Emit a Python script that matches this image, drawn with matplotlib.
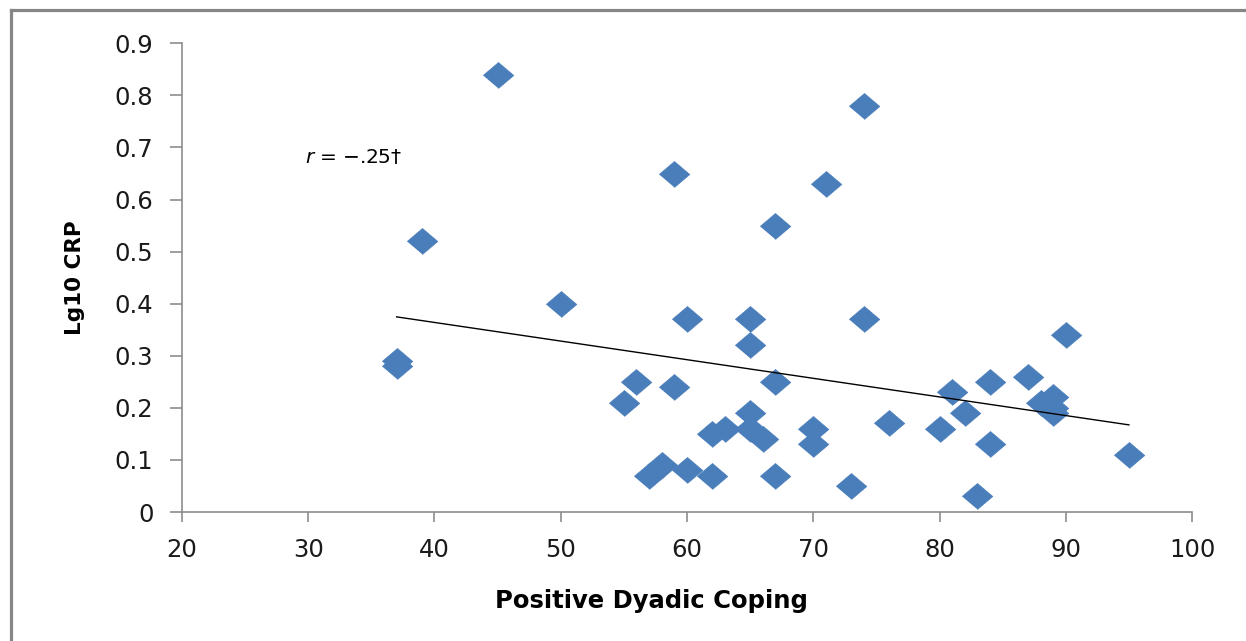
import numpy as np
from matplotlib import pyplot as plt
from matplotlib.lines import Line2D

# Positive Dyadic Coping vs Lg10 CRP
coping = [45, 74, 59, 71, 67, 39, 50, 60, 65, 74, 90, 65, 37, 37, 87, 56, 67, 84,
          59, 81, 88, 89, 89, 89, 55, 65, 82, 76, 62, 63, 65, 80, 70, 66, 70, 84,
          95, 58, 57, 60, 62, 67, 73, 83]
crp = [0.84, 0.78, 0.65, 0.63, 0.55, 0.52, 0.40, 0.37, 0.37, 0.37, 0.34, 0.32,
       0.29, 0.28, 0.26, 0.25, 0.25, 0.25, 0.24, 0.23, 0.21, 0.22, 0.20, 0.19,
       0.21, 0.19, 0.19, 0.17, 0.15, 0.16, 0.16, 0.16, 0.16, 0.14, 0.13, 0.13,
       0.11, 0.09, 0.07, 0.08, 0.07, 0.07, 0.05, 0.03]
x_ticks = [20, 30, 40, 50, 60, 70, 80, 90, 100]
y_ticks = [0, 0.1, 0.2, 0.3, 0.4, 0.5, 0.6, 0.7, 0.8, 0.9]
y_ticklabels = ['0', '0.1', '0.2', '0.3', '0.4', '0.5', '0.6', '0.7', '0.8', '0.9']

x = np.array(coping, dtype=float)
y = np.array(crp, dtype=float)
# linear trend line over the observed range
slope, intercept = np.polyfit(x, y, 1)

fig = plt.figure(figsize=(12.46, 6.41), dpi=100)
ax = fig.add_axes([0.146, 0.2012, 0.8107, 0.7312])

diamond = [(-1, 0), (0, 0.85), (1, 0), (0, -0.85)]
ax.plot(x, y, linestyle='none', marker=diamond, markersize=22,
        markerfacecolor='#4A7EBB', markeredgecolor='#4A7EBB', markeredgewidth=0.5, zorder=2)

xs = np.array([x.min(), x.max()])
ax.plot(xs, slope * xs + intercept, color='black', linewidth=1.0, zorder=3)

ax.set_xlim(20, 100)
ax.set_ylim(0, 0.9)
ax.set_xticks(x_ticks)
ax.set_yticks(y_ticks)
ax.set_yticklabels(y_ticklabels)

for side in ['top', 'right']:
    ax.spines[side].set_visible(False)
for side in ['left', 'bottom']:
    ax.spines[side].set_color('#8C8C8C')
    ax.spines[side].set_linewidth(1.2)
ax.tick_params(axis='both', direction='out', color='#8C8C8C', width=1.2,
               labelsize=17.5, labelcolor='#1A1A1A')
ax.tick_params(axis='x', length=7.5, pad=11)
ax.tick_params(axis='y', length=8.5, pad=12)

ax.set_xlabel('Positive Dyadic Coping', fontsize=17.5, fontweight='bold')
ax.xaxis.set_label_coords(0.465, -0.165)
ax.set_ylabel('Lg10 CRP', fontsize=15.5, fontweight='bold')
ax.yaxis.set_label_coords(-0.096, 0.5)

ax.text(29.75, 0.681, r'$r$ = −.25†', fontsize=14.5, ha='left', va='center')

# outer gray frame (top and left edges visible)
fig.add_artist(Line2D([0.0085, 1.0], [0.9844, 0.9844], transform=fig.transFigure,
                      color='#868686', linewidth=2.3))
fig.add_artist(Line2D([0.0085, 0.0085], [0.0, 0.9844], transform=fig.transFigure,
                      color='#868686', linewidth=2.3))

plt.savefig('out.png', dpi=100)
